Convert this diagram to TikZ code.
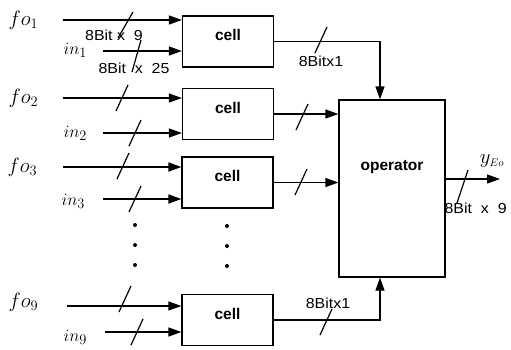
\documentclass[tikz,border=0pt]{standalone}
\usepackage{fontspec}
\setsansfont{Liberation Sans}
\newfontfamily\buswide[FakeStretch=1.1]{Liberation Sans}
\usetikzlibrary{arrows.meta,calc}
\newcommand\busmark[1]{\draw (#1) ++(-6,13) -- ++(12,-26);}
\begin{document}
\begin{tikzpicture}[x=1pt,y=-1pt,line width=1.2pt,
  arr/.style={-{Triangle[length=13pt,width=9pt]}},
  cellbox/.style={draw,minimum width=91pt,minimum height=51pt,inner sep=0pt,
    font=\sffamily\bfseries\fontsize{15.5}{17}\selectfont,text height=10pt,text depth=12pt},
  opbox/.style={draw,minimum width=106pt,minimum height=177pt,inner sep=0pt},
  buslab/.style={font=\buswide\fontsize{14.5}{16}\selectfont,inner sep=0pt},
  folab/.style={font=\fontsize{21}{23}\selectfont,inner sep=0pt,anchor=west},
  inlab/.style={font=\fontsize{19}{21}\selectfont,inner sep=0pt,anchor=west},
  dotmark/.style={circle,fill,inner sep=0pt,minimum size=4pt},
]
\useasboundingbox (0,0) rectangle (511,349);

% cells and operator
\node[cellbox] (c1) at (228,41.5) {cell};
\node[cellbox] (c2) at (228,114) {cell};
\node[cellbox] (c3) at (227.5,182.5) {cell};
\node[cellbox] (c9) at (227.5,320) {cell};
\node[opbox,label={[name=optxt,yshift=21pt,font=\sffamily\bfseries\fontsize{15.5}{17}\selectfont]center:operator}] (op) at (392,188.5) {};

% input labels
\node[folab] (lfo1) at (8,20) {$fo_1$};
\node[inlab] (lin1) at (63,50) {$in_1$};
\node[folab] (lfo2) at (8,98) {$fo_2$};
\node[inlab] (lin2) at (63,133) {$in_2$};
\node[folab] (lfo3) at (7,167) {$fo_3$};
\node[inlab] (lin3) at (61,201) {$in_3$};
\node[folab] (lfo9) at (8,302) {$fo_9$};
\node[inlab] (lin9) at (63,337) {$in_9$};

% input start points
\coordinate (sfo1) at (63,20);
\coordinate (sin1) at (103,51);
\coordinate (sfo2) at (63,98);
\coordinate (sin2) at (103,133);
\coordinate (sfo3) at (63,167);
\coordinate (sin3) at (103,199);
\coordinate (sfo9) at (67,306);
\coordinate (sin9) at (105,332);

\draw[arr] (sfo1) -- (sfo1 -| c1.west);
\draw[arr] (sin1) -- (sin1 -| c1.west);
\draw[arr] (sfo2) -- (sfo2 -| c2.west);
\draw[arr] (sin2) -- (sin2 -| c2.west);
\draw[arr] (sfo3) -- (sfo3 -| c3.west);
\draw[arr] (sin3) -- (sin3 -| c3.west);
\draw[arr] (sfo9) -- (sfo9 -| c9.west);
\draw[arr] (sin9) -- (sin9 -| c9.west);

% bus slashes on inputs
\draw (118,38) -- (133,12);
\draw (132,72) -- (141,40);
\busmark{122,98}
\busmark{135,133}
\busmark{123,166}
\busmark{135,199}
\busmark{125,299}
\busmark{137,332}

% bus width labels
\node[buslab] (b1) at (114,35) {8Bit x\ \ 9};
\node[buslab] (b2) at (134,68) {8Bit\ \ x\ \ 25};

% dots
\node[dotmark] (dl1) at (135,225) {};
\node[dotmark] (dl2) at (135,245) {};
\node[dotmark] (dl3) at (135,265) {};
\node[dotmark] (dr1) at (227,226) {};
\node[dotmark] (dr2) at (227,246) {};
\node[dotmark] (dr3) at (227,266) {};

% cell outputs
\draw[arr] (c1.east) -| ([xshift=-12pt]op.north);
\draw[arr] (c2.east) -- (c2.east -| op.west);
\draw[arr] (c3.east) -- (c3.east -| op.west);
\draw[arr] (c9.east) -| ([xshift=-12pt]op.south);
\busmark{321,40}
\busmark{302,117}
\busmark{301,182}
\busmark{326,322}
\node[buslab] (b3) at (321,61) {8Bitx1};
\node[buslab] (b4) at (328,303) {8Bitx1};

% operator output
\coordinate (yout) at (500,179);
\draw[arr] (yout -| op.east) -- (yout);
\draw (457,203) -- (468,170);
\node[font=\fontsize{22}{24}\selectfont,inner sep=0pt] (yeo) at (492,161) {$y_{\scriptscriptstyle Eo}$};
\node[buslab,anchor=west] (b5) at (444,208) {8Bit\ \ x\ \ 9};
\end{tikzpicture}
\end{document}
